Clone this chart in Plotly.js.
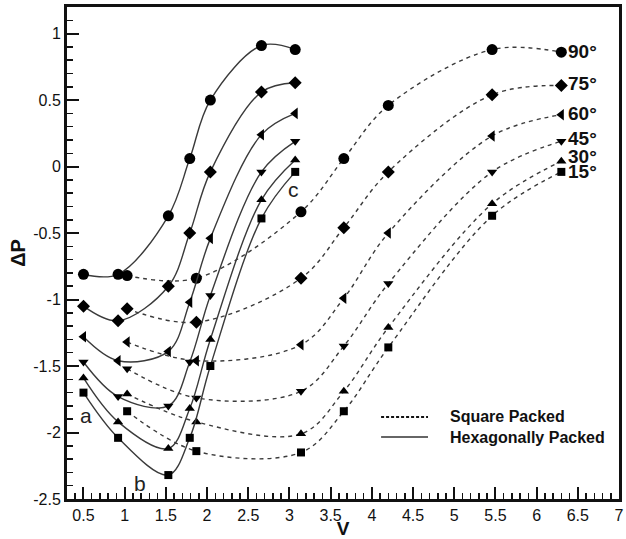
<!DOCTYPE html>
<html>
<head>
<meta charset="utf-8">
<script src="https://cdn.plot.ly/plotly-3.0.1.min.js"></script>
<style>html,body{margin:0;padding:0;background:#fff}#chart{width:626px;height:539px}</style>
</head>
<body>
<div id="chart"></div>
<script>
// ---- data ----
var angles = ["90°", "75°", "60°", "45°", "30°", "15°"];
var symbols = ["circle", "diamond", "triangle-left", "triangle-down", "triangle-up", "square"];
var markerSizes = [11, 10, 10, 9, 9, 8];

// Hexagonally packed (solid)
var hexV = [0.5, 0.92, 1.53, 1.79, 2.04, 2.66, 3.07];
var hex90 = [-0.81, -0.81, -0.37, 0.06, 0.50, 0.91, 0.88];
var hex75 = [-1.05, -1.16, -0.90, -0.50, -0.04, 0.56, 0.63];
var hex60 = [-1.28, -1.46, -1.39, -1.02, -0.54, 0.24, 0.40];
var hex45 = [-1.47, -1.73, -1.80, -1.47, -0.97, -0.04, 0.19];
var hex30 = [-1.59, -1.92, -2.12, -1.82, -1.30, -0.25, 0.05];
var hex15 = [-1.70, -2.04, -2.32, -2.04, -1.50, -0.39, -0.04];

// Square packed (dashed)
var sqV = [1.03, 1.87, 3.14, 3.66, 4.20, 5.46, 6.30];
var sq90 = [-0.82, -0.84, -0.34, 0.06, 0.46, 0.88, 0.86];
var sq75 = [-1.07, -1.17, -0.84, -0.46, -0.04, 0.54, 0.61];
var sq60 = [-1.32, -1.46, -1.34, -0.99, -0.50, 0.23, 0.39];
var sq45 = [-1.52, -1.74, -1.69, -1.35, -0.88, -0.04, 0.19];
var sq30 = [-1.71, -1.92, -2.01, -1.69, -1.21, -0.28, 0.04];
var sq15 = [-1.84, -2.14, -2.15, -1.84, -1.36, -0.37, -0.04];

// point letters
var letterText = ["a", "b", "c"];
var letterV = [0.53, 1.19, 3.05];
var letterP = [-1.87, -2.38, -0.17];

var xTickVals = [0.5, 1, 1.5, 2, 2.5, 3, 3.5, 4, 4.5, 5, 5.5, 6, 6.5, 7];
var xTickText = ["0.5", "1", "1.5", "2", "2.5", "3", "3.5", "4", "4.5", "5", "5.5", "6", "6.5", "7"];
var yTickVals = [-2.5, -2, -1.5, -1, -0.5, 0, 0.5, 1];
var yTickText = ["-2.5", "-2", "-1.5", "-1", "-0.5", "0", "0.5", "1"];

var legendNames = ["Square Packed", "Hexagonally Packed"];

// ---- build ----
var hexSets = [hex90, hex75, hex60, hex45, hex30, hex15];
var sqSets = [sq90, sq75, sq60, sq45, sq30, sq15];
var LINE = "#3a3a3a";
var traces = [];
for (var i = 0; i < angles.length; i++) {
  traces.push({
    x: hexV, y: hexSets[i], mode: "lines+markers", showlegend: false,
    line: {shape: "spline", smoothing: 1, color: LINE, width: 1.4},
    marker: {symbol: symbols[i], size: markerSizes[i], color: "#000"},
    name: "Hex " + angles[i]
  });
  traces.push({
    x: sqV, y: sqSets[i], mode: "lines+markers", showlegend: false,
    line: {shape: "spline", smoothing: 1, color: LINE, width: 1.4, dash: "4px,4px"},
    marker: {symbol: symbols[i], size: markerSizes[i], color: "#000"},
    name: "Square " + angles[i]
  });
}

var labelShift = [1, 2, 1, 3, 5, 0];
var annotations = [];
for (var i = 0; i < angles.length; i++) {
  var s = sqSets[i];
  annotations.push({
    x: sqV[sqV.length - 1], y: s[s.length - 1], xref: "x", yref: "y",
    text: angles[i], showarrow: false, xanchor: "left", yanchor: "middle",
    xshift: 5, yshift: labelShift[i],
    font: {family: "Liberation Sans, Arial, sans-serif", size: 19, color: "#111", weight: "bold"}
  });
}
for (var j = 0; j < letterText.length; j++) {
  annotations.push({
    x: letterV[j], y: letterP[j], xref: "x", yref: "y", text: letterText[j],
    showarrow: false, xanchor: "center", yanchor: "middle",
    font: {family: "Liberation Sans, Arial, sans-serif", size: 21, color: "#222"}
  });
}
// legend texts
annotations.push({x: 0.690, y: 0.1667, xref: "paper", yref: "paper", text: legendNames[0],
  showarrow: false, xanchor: "left", yanchor: "middle",
  font: {family: "Liberation Sans, Arial, sans-serif", size: 16, color: "#111", weight: "bold"}});
annotations.push({x: 0.690, y: 0.126, xref: "paper", yref: "paper", text: legendNames[1],
  showarrow: false, xanchor: "left", yanchor: "middle",
  font: {family: "Liberation Sans, Arial, sans-serif", size: 16, color: "#111", weight: "bold"}});

var shapes = [
  {type: "line", xref: "paper", yref: "paper", x0: 0.569, x1: 0.654, y0: 0.1667, y1: 0.1667,
   line: {color: "#111", width: 2, dash: "3px,2px"}},
  {type: "line", xref: "paper", yref: "paper", x0: 0.569, x1: 0.654, y0: 0.126, y1: 0.126,
   line: {color: "#333", width: 1.3}}
];

var tickFont = {family: "Liberation Sans, Arial, sans-serif", size: 16, color: "#111"};
var layout = {
  width: 626, height: 539,
  margin: {l: 67, r: 7, t: 7, b: 40, pad: 0},
  paper_bgcolor: "#fff", plot_bgcolor: "#fff",
  showlegend: false,
  xaxis: {
    range: [0.3, 7], tickvals: xTickVals, ticktext: xTickText,
    ticks: "inside", ticklen: 12, tickwidth: 2, tickcolor: "#111",
    minor: {dtick: 0.1, tick0: 0, ticks: "inside", ticklen: 6, tickwidth: 1.5, tickcolor: "#111"},
    showline: true, linewidth: 3, linecolor: "#111", mirror: true,
    showgrid: false, zeroline: false, tickfont: tickFont,
    title: {text: "V", standoff: 5, font: {family: "Liberation Sans, Arial, sans-serif", size: 19, color: "#111", weight: "bold"}}
  },
  yaxis: {
    range: [-2.5, 1.2], tickvals: yTickVals, ticktext: yTickText,
    ticks: "inside", ticklen: 12, tickwidth: 2, tickcolor: "#111",
    minor: {dtick: 0.1, tick0: 0, ticks: "inside", ticklen: 6, tickwidth: 1.5, tickcolor: "#111"},
    showline: true, linewidth: 3, linecolor: "#111", mirror: true,
    showgrid: false, zeroline: false, tickfont: tickFont,
    title: {text: "ΔP", standoff: 3, font: {family: "Liberation Sans, Arial, sans-serif", size: 20, color: "#111", weight: "bold"}}
  },
  annotations: annotations,
  shapes: shapes
};

Plotly.newPlot("chart", traces, layout, {displayModeBar: false, staticPlot: true});
</script>
</body>
</html>
